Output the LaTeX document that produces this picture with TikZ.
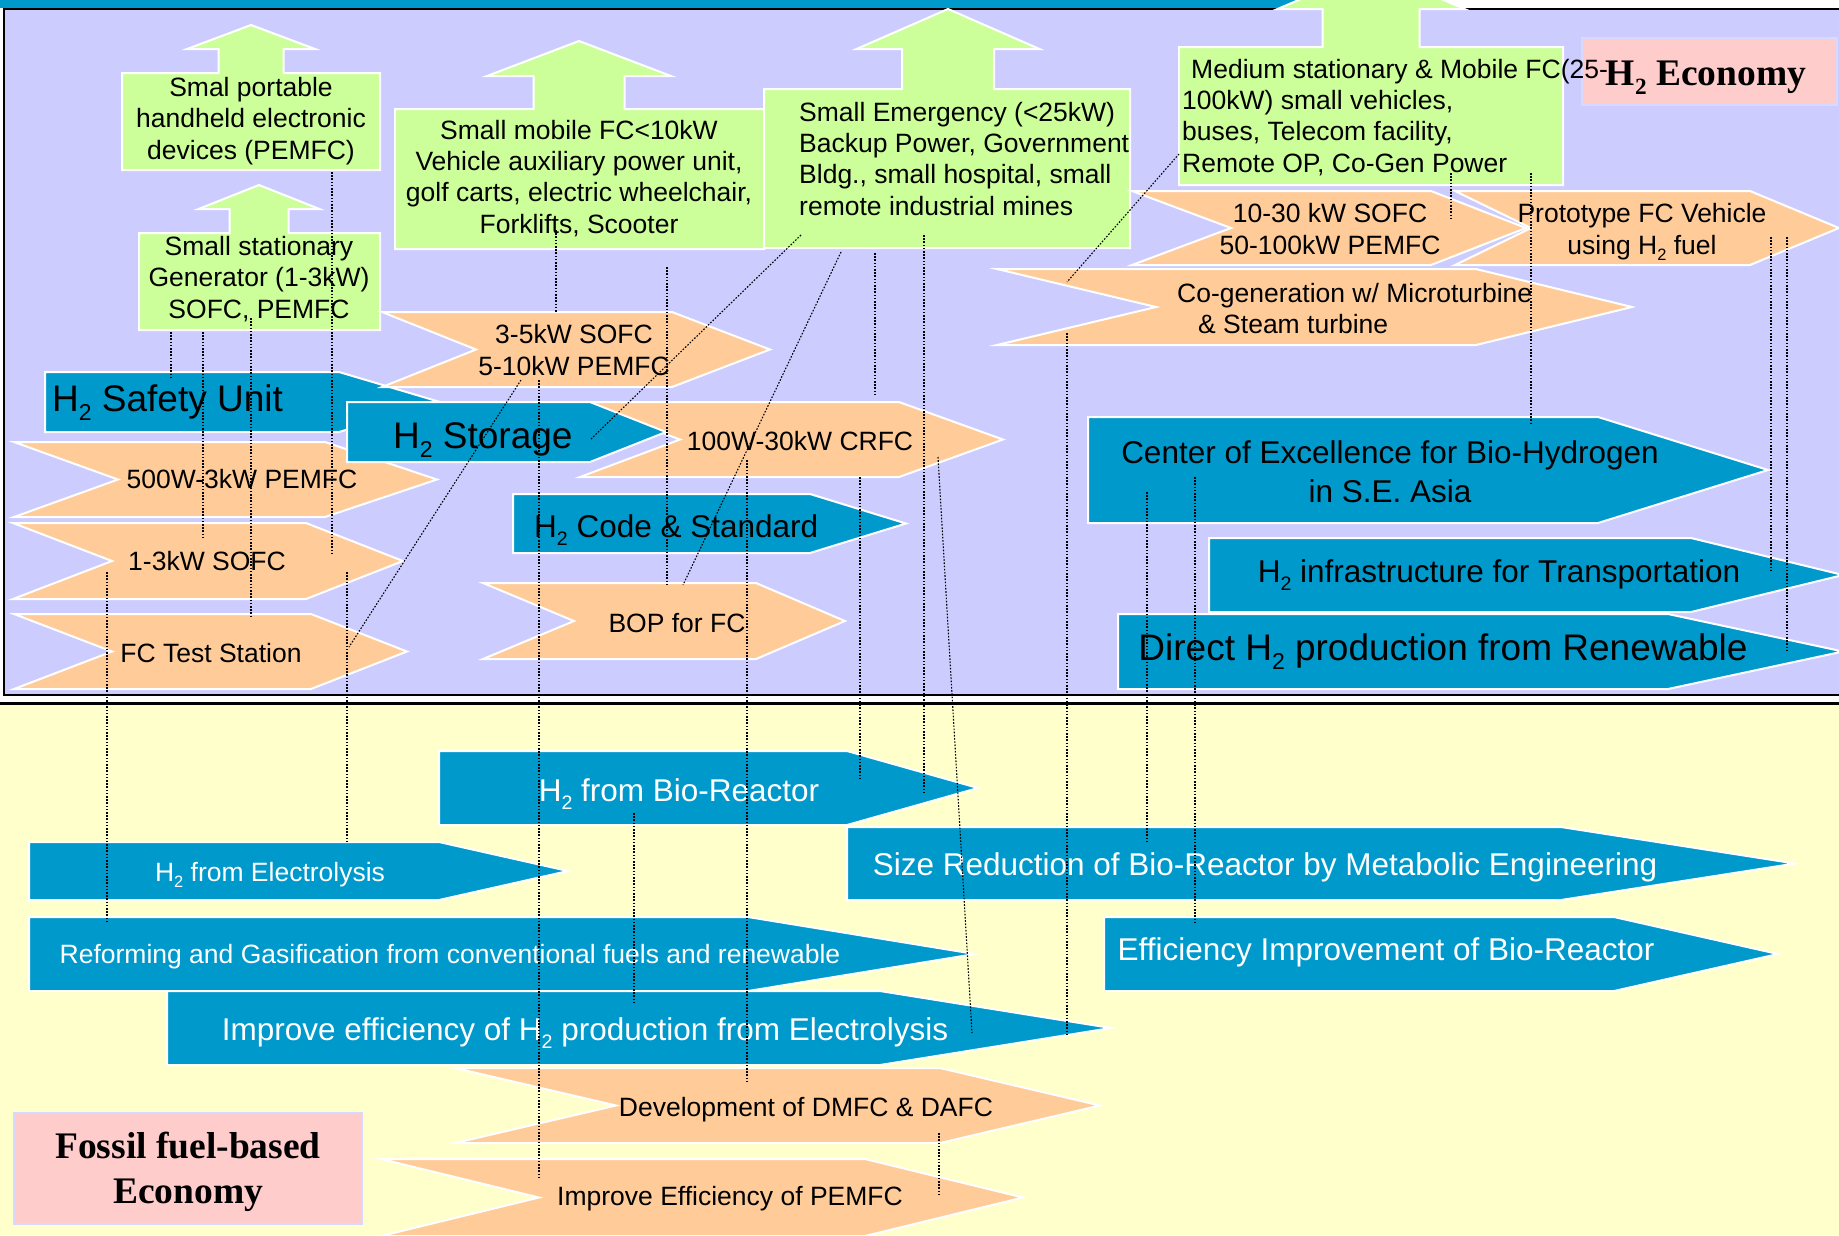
\documentclass[tikz,border=0pt]{standalone}
\usepackage{fontspec}
\setmainfont{Liberation Sans}
\newfontfamily\serifbold{Liberation Serif}
\usepackage{graphicx}
\definecolor{bluec}{HTML}{0099CC}
\definecolor{orangec}{HTML}{FFCC99}
\definecolor{greenc}{HTML}{CCFF99}
\definecolor{lavc}{HTML}{CCCCFF}
\definecolor{yellowc}{HTML}{FFFFCC}
\definecolor{pinkc}{HTML}{FFCCCC}
\newcommand\two{\raisebox{-0.26em}{\scalebox{0.62}{2}}}
% chevron with notch: x0 x1 x2 ytop ybot xnotch
\newcommand\chev[6]{\path[chevst] (#1,#4) -- (#2,#4) -- (#3,{(#4+#5)/2}) -- (#2,#5) -- (#1,#5) -- (#6,{(#4+#5)/2}) -- cycle;}
% pentagon: x0 x1 x2 ytop ybot
\newcommand\pent[5]{\path[pentst] (#1,#4) -- (#2,#4) -- (#3,{(#4+#5)/2}) -- (#2,#5) -- (#1,#5) -- cycle;}
% box with up arrow: x0 x1 y0 y1 cx stemhalf headhalf ybase ytip
\newcommand\uparr[9]{\path[greenst] (#5,#9) -- ({#5+#7},#8) -- ({#5+#6},#8) -- ({#5+#6},#3) -- (#2,#3) -- (#2,#4) -- (#1,#4) -- (#1,#3) -- ({#5-#6},#3) -- ({#5-#6},#8) -- ({#5-#7},#8) -- cycle;}
\tikzset{
  chevst/.style={fill=orangec, draw=white, line width=2pt},
  pentst/.style={fill=bluec, draw=white, line width=2pt},
  greenst/.style={fill=greenc, draw=white, line width=2pt},
  pinkst/.style={fill=pinkc, draw=white!85!blue, line width=2pt},
  ts/.style={font=\fontsize{26.5}{31.3}\selectfont, inner sep=0pt, align=center},
  tm/.style={font=\fontsize{31.5}{39}\selectfont, inner sep=0pt, align=center},
  tl/.style={font=\fontsize{37}{44}\selectfont, inner sep=0pt, align=center},
  tser/.style={font=\fontsize{37.5}{45}\serifbold\bfseries, inner sep=0pt, align=center},
  wt/.style={text=white},
  dl/.style={draw=black, line width=1.1pt, dash pattern=on 1.6pt off 1.6pt}
}
\begin{document}
\begin{tikzpicture}[x=1pt,y=-1pt]
\useasboundingbox (0,0) rectangle (1839,1235);
\clip (0,0) rectangle (1839,1235);
% backgrounds
\fill[white] (0,0) rectangle (1839,1235);
\fill[yellowc] (0,705) rectangle (1839,1235);
\draw[black, line width=2.2pt] (0,703.5) -- (1839,703.5);
\draw[fill=lavc, draw=black, line width=2.2pt] (4,9) rectangle (1860,695);
\fill[bluec] (0,0) rectangle (1300,8);

% ---------- top region shapes ----------
\uparr{122}{380}{73}{170}{251}{32.5}{64}{49}{25}
\uparr{139}{380}{233}{330}{259}{29.5}{60.5}{209}{185}
\uparr{395}{764}{109}{249}{579}{45.5}{92}{76}{41}
\uparr{764}{1130}{89}{248}{948}{46}{91.5}{49}{9}
\uparr{1179}{1563}{47}{185}{1371}{48.5}{93.5}{9}{-31}

\pent{45}{339}{440}{372}{432}
\chev{382}{672}{770}{312}{387}{476}
\chev{14}{325}{437}{442}{517}{118}
\chev{13}{306}{403}{523}{599}{112}
\chev{14}{311}{407}{614}{689}{112}
\chev{580}{899}{1003}{402}{477}{680}
\pent{347}{590}{666}{402}{462}
\pent{513}{810}{906}{494}{553}
\chev{483}{756}{845}{583}{659}{574}

\chev{1132}{1431}{1526}{191}{265}{1231}
\chev{1455}{1750}{1839}{191}{265}{1531}
\chev{997}{1476}{1632}{269}{345}{1156}
\pent{1088}{1598}{1768}{417}{523}
\pent{1209}{1691}{1843}{538}{612}
\pent{1118}{1668}{1843}{614}{689}

\path[pinkst] (1582,38) rectangle (1837,105);

% ---------- bottom region shapes ----------
\pent{439}{847}{978}{751}{825}
\pent{847}{1561}{1795}{827}{900}
\pent{29}{439}{568}{842}{900}
\pent{29}{748}{975}{917}{991}
\pent{1104}{1614}{1778}{917}{991}
\pent{167}{880}{1111}{991}{1065}
\chev{455}{940}{1100}{1068}{1143}{616}
\chev{381}{865}{1023}{1159}{1236}{539}
\path[pinkst] (14,1113) rectangle (362,1224);

% ---------- texts (multi-line nodes anchored at last baseline) ----------
\node[ts, anchor=base] (tg1) at (251,159) {Smal portable\\handheld electronic\\devices (PEMFC)};
\node[ts, anchor=base] (tg2) at (259,318) {Small stationary\\Generator (1-3kW)\\SOFC, PEMFC};
\node[ts, anchor=base] (tg3) at (579,233) {Small mobile FC<10kW\\Vehicle auxiliary power unit,\\golf carts, electric wheelchair,\\Forklifts, Scooter};
\node[ts, anchor=base west, align=left] (tg4) at (799,215) {Small Emergency (<25kW)\\Backup Power, Government\\Bldg., small hospital, small\\remote industrial mines};
\node[tser, anchor=base] (econ) at (1706,85) {H\two\ Economy};
\node[ts, anchor=base west, align=left] (tg5) at (1182,172) {\hspace{9pt}Medium stationary \& Mobile FC(25-\\100kW) small vehicles,\\buses, Telecom facility,\\Remote OP, Co-Gen Power};

\node[tl, anchor=base west] (tsafe) at (52,411) {H\two\ Safety Unit};
\node[tl, anchor=base west] (tstor) at (393,448) {H\two\ Storage};
\node[tm, anchor=base west] (tcode) at (534,537) {H\two\ Code \& Standard};
\node[ts, anchor=base] (tc1) at (574,375) {3-5kW SOFC\\5-10kW PEMFC};
\node[ts, anchor=base] (tc2) at (242,488) {500W-3kW PEMFC};
\node[ts, anchor=base] (tc3) at (207,570) {1-3kW SOFC};
\node[ts, anchor=base] (tc4) at (211,662) {FC Test Station};
\node[ts, anchor=base] (tc5) at (800,450) {100W-30kW CRFC};
\node[ts, anchor=base] (tc6) at (677,632) {BOP for FC};
\node[ts, anchor=base] (tc7) at (1330,254) {10-30 kW SOFC\\50-100kW PEMFC};
\node[ts, anchor=base] (tc8) at (1642,254) {Prototype FC Vehicle\\using H\two\ fuel};
\node[ts, anchor=base west] (tc9a) at (1177,302) {Co-generation w/ Microturbine};
\node[ts, anchor=base west] (tc9b) at (1198,333) {\& Steam turbine};
\node[tm, anchor=base] (tb4) at (1390,502) {Center of Excellence for Bio-Hydrogen\\in S.E. Asia};
\node[tm, anchor=base] (tb5) at (1499,582) {H\two\ infrastructure for Transportation};
\node[tl, anchor=base] (tb6) at (1443,660) {Direct H\two\ production from Renewable};

\node[tm, wt, anchor=base] (tb7) at (679,801) {H\two\ from Bio-Reactor};
\node[ts, wt, anchor=base] (tb8) at (270,881) {H\two\ from Electrolysis};
\node[ts, wt, anchor=base] (tb9) at (450,963) {Reforming and Gasification from conventional fuels and renewable};
\node[tm, wt, anchor=base] (tb10) at (585,1040) {Improve efficiency of H\two\ production from Electrolysis};
\node[tm, wt, anchor=base] (tb11) at (1265,875) {Size Reduction of Bio-Reactor by Metabolic Engineering};
\node[tm, wt, anchor=base] (tb12) at (1386,960) {Efficiency Improvement of Bio-Reactor};
\node[ts, anchor=base] (tc10) at (806,1116) {Development of DMFC \& DAFC};
\node[ts, anchor=base] (tc11) at (730,1205) {Improve Efficiency of PEMFC};
\node[tser, anchor=base] (fossil) at (188,1203) {Fossil fuel-based\\Economy};

% ---------- dotted connectors ----------
\foreach \xa/\ya/\xb/\yb [count=\i] in {
  332/172/332/554, 171/332/171/378, 203/332/203/538, 251/318/251/618,
  556/230/556/313, 667/267/667/585, 801/235/590/440, 521/380/349/647,
  841/252/683/585, 875/253/875/395, 924/235/924/794, 860/477/860/778,
  938/457/972/1033, 1179/154/1067/282, 1067/333/1067/1034, 1451/173/1451/218,
  1531/173/1531/425, 1771/237/1771/570, 1787/237/1787/651, 1147/492/1147/842,
  1195/477/1195/922, 107/572/107/922, 347/572/347/842, 539/380/539/1178,
  747/460/747/1082, 634/813/634/1002, 939/1133/939/1195}
{
  \coordinate (L\i a) at (\xa,\ya);
  \coordinate (L\i b) at (\xb,\yb);
  \draw[dl] (L\i a) -- (L\i b);
}
\end{tikzpicture}
\end{document}
